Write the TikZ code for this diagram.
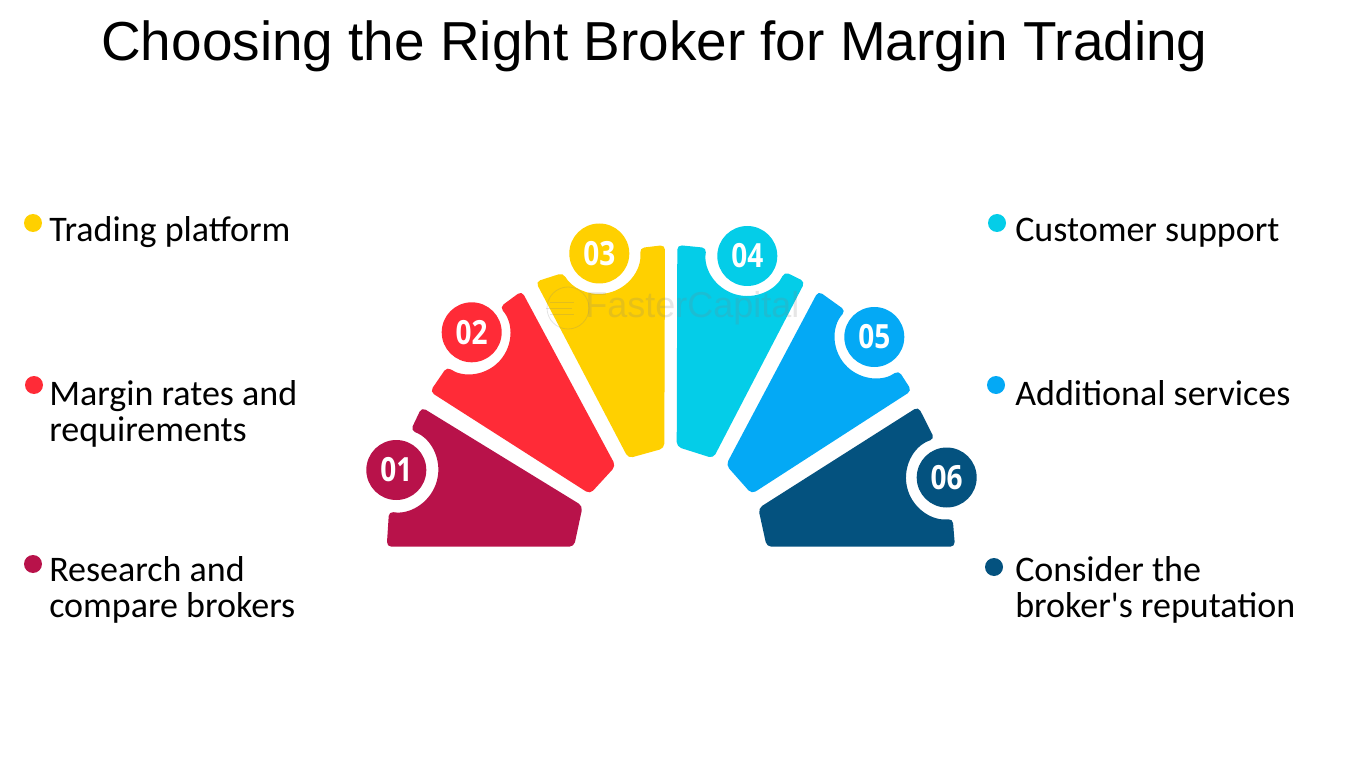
\documentclass[tikz,border=0pt]{standalone}
\usepackage{fontspec}
\setmainfont{Carlito}
\newfontfamily\titlefont{Liberation Sans}
\newfontfamily\markfont{Liberation Sans}
\newfontfamily\numfont[FakeStretch=0.84]{Open Sans}
\definecolor{cA}{HTML}{B8124A}
\definecolor{cB}{HTML}{FF2B37}
\definecolor{cC}{HTML}{FFD000}
\definecolor{cD}{HTML}{04CDE8}
\definecolor{cE}{HTML}{04A9F5}
\definecolor{cF}{HTML}{04527F}
\tikzset{
  seg/.style={rounded corners=3.5pt},
  num/.style={circle,inner sep=0pt,minimum size=45pt,text=white,font=\numfont\bfseries\fontsize{25}{25}\selectfont},
  dot/.style={circle,inner sep=0pt,minimum size=13.5pt},
  lbl/.style={anchor=base west,inner sep=0pt,align=left,font=\fontsize{27}{27}\selectfont},
  wm/.style={draw=gray,opacity=.22,line width=.6pt},
}
\begin{document}
\begin{tikzpicture}[x=0.75pt,y=0.75pt]
\useasboundingbox (0,0) rectangle (1350,769);
% segments (y measured upward)
\fill[cA,seg] (396.3,299)+(70:42) arc[start angle=70,end angle=-100,radius=42] -- (386.7,222.3) -- (574,222.3) -- (582.7,263) -- (421.7,361.7) -- cycle;
\fill[cB,seg] (470,435)+(42:40) arc[start angle=42,end angle=-125,radius=40] -- (430,377.3) -- (590,275) -- (615.7,303) -- (521.7,478) -- cycle;
\fill[cC,seg] (599,516)+(7:41) arc[start angle=7,end angle=-151,radius=41] -- (535.7,487.3) -- (628.3,310.7) -- (664.3,320.7) -- (665,524) -- cycle;
\fill[cD,seg] (747,514)+(170:41) arc[start angle=170,end angle=336,radius=41] -- (805,487.3) -- (713.3,310.7) -- (676.7,322.3) -- (677.3,524) -- cycle;
\fill[cE,seg] (875,431)+(137:40) arc[start angle=137,end angle=306,radius=40] -- (911.7,378.3) -- (751.7,275) -- (726,304) -- (818.3,478) -- cycle;
\fill[cF,seg] (947,291)+(107.6:41) arc[start angle=107.6,end angle=278,radius=41] -- (955,222.3) -- (766.7,222.3) -- (758.3,260.7) -- (918.3,362.3) -- cycle;
% watermark
\draw[wm] (568,461) circle[radius=21];
\draw[wm] (546,461) -- (572,461) (550,467) -- (574,467) (550,455) -- (574,455);
\node[anchor=base west,inner sep=0pt,opacity=.2,text=gray,font=\markfont\fontsize{27}{27}\selectfont] (mark) at (585,451) {FasterCapital};
% numbered discs
\node[num,fill=cA] (n1) at (396.3,299) {01};
\node[num,fill=cB] (n2) at (471.7,436.7) {02};
\node[num,fill=cC] (n3) at (599.3,515.5) {03};
\node[num,fill=cD] (n4) at (747.3,513) {04};
\node[num,fill=cE] (n5) at (874.3,432) {05};
\node[num,fill=cF] (n6) at (946.7,291.5) {06};
% title
\node[anchor=base west,inner sep=0pt,font=\titlefont\fontsize{41.2}{41.2}\selectfont] (title) at (101,708) {Choosing the Right Broker for Margin Trading};
% legend
\node[dot,fill=cC] (d3) at (33,546) {};
\node[dot,fill=cB] (d2) at (34,384) {};
\node[dot,fill=cA] (d1) at (33,205) {};
\node[dot,fill=cD] (d4) at (997,546) {};
\node[dot,fill=cE] (d5) at (996,384) {};
\node[dot,fill=cF] (d6) at (994,202) {};
\node[lbl] (t3) at (49,527.5) {Trading platform};
\node[lbl,anchor=north west] (t2) at (49,389) {Margin rates and\\requirements};
\node[lbl,anchor=north west] (t1) at (49,213) {Research and\\compare brokers};
\node[lbl] (t4) at (1015,527.5) {Customer support};
\node[lbl] (t5) at (1015,364) {Additional services};
\node[lbl,anchor=north west] (t6) at (1015,213) {Consider the\\broker\textquotesingle s reputation};
\end{tikzpicture}
\end{document}
